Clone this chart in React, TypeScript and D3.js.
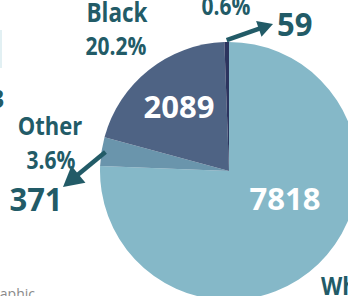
import React, { useEffect, useRef } from 'react';
import * as d3 from 'd3';

// slices, clockwise from 12 o'clock
const groups = ['White', 'Other', 'Black', 'Asian'];
const counts = [7818, 371, 2089, 59];
const percents = ['75.6%', '3.6%', '20.2%', '0.6%'];
const colors = ['#85b8c8', '#6a95ac', '#4e6384', '#2c345e'];

const W = 348;
const H = 296;
const ink = '#225b67';
const font = "'Open Sans', 'DejaVu Sans', sans-serif";

function PieChart() {
  const ref = useRef<SVGSVGElement | null>(null);

  useEffect(() => {
    const svg = d3.select(ref.current);
    svg.selectAll('*').remove();
    svg.attr('width', W).attr('height', H);

    const cx = 229, cy = 171, r = 129;
    const g = svg.append('g').attr('transform', `translate(${cx},${cy})`);

    const data = groups.map((d, i) => ({ name: d, count: counts[i], pct: percents[i], color: colors[i] }));
    const pie = d3.pie<any>().sort(null).value((d) => d.count);
    const arcs = pie(data);
    const arc = d3.arc<any>().innerRadius(0).outerRadius(r);

    g.selectAll('path.slice')
      .data(arcs)
      .enter()
      .append('path')
      .attr('class', 'slice')
      .attr('d', arc)
      .attr('fill', (d) => d.data.color);

    const pt = (a: number, rr: number) => [cx + rr * Math.sin(a), cy - rr * Math.cos(a)];
    const mid = (d: any) => (d.startAngle + d.endAngle) / 2;

    // arrow with triangle head
    const arrow = (from: number[], tip: number[], head: number) => {
      const dx = tip[0] - from[0], dy = tip[1] - from[1];
      const len = Math.sqrt(dx * dx + dy * dy);
      const ux = dx / len, uy = dy / len;
      const bx = tip[0] - ux * head, by = tip[1] - uy * head;
      svg.append('line')
        .attr('x1', from[0]).attr('y1', from[1])
        .attr('x2', bx + ux * 2).attr('y2', by + uy * 2)
        .attr('stroke', ink).attr('stroke-width', 4.5);
      const w = head * 0.55;
      svg.append('path')
        .attr('d', `M${tip[0]},${tip[1]}L${bx - uy * w},${by + ux * w}L${bx + uy * w},${by - ux * w}Z`)
        .attr('fill', ink);
    };
    arrow(pt(mid(arcs[1]), 125), [63, 187], 20);
    arrow(pt(mid(arcs[3]), 131), [273, 24], 15);

    // text, a little stretched up like the reference lettering
    const label = (txt: string, x: number, y: number, size: number, anchor = 'middle', weight = 700, fill = ink, sy = 1.15) =>
      svg.append('text')
        .attr('transform', `translate(${x},${y}) scale(1,${sy})`)
        .attr('text-anchor', anchor)
        .attr('font-family', font)
        .attr('font-weight', weight)
        .attr('font-size', size)
        .attr('fill', fill)
        .text(txt);

    // numbers inside the two big slices
    label(String(counts[0]), 285, 210, 31, 'middle', 700, '#ffffff', 1);
    label(String(counts[2]), 179, 118, 31, 'middle', 700, '#ffffff', 1);

    // outside labels
    label(groups[2], 117, 22, 22.5);
    label(percents[2], 116, 55, 21);
    label(groups[1], 50, 135, 22);
    label(percents[1], 51, 169, 21);
    label(String(counts[1]), 36, 211, 31, 'middle', 700, ink, 1.05);
    label(percents[3], 226, 15, 21);
    label(String(counts[3]), 277, 36, 31, 'start', 700, ink, 1.05);
    label(groups[0], 321, 295, 22, 'start');

    // cut-off bits at the edges of the crop
    label('3', 4, 108, 22, 'end');
    label('Demographic', 35, 299, 14, 'end', 400, '#8a8a8a', 1);
    svg.append('rect').attr('x', 0).attr('y', 30).attr('width', 2).attr('height', 38).attr('fill', '#e2f0f3');
  }, []);

  return <svg ref={ref} />;
}

export default function App() {
  return (
    <div style={{ position: 'fixed', left: 0, top: 0, width: W, height: H, background: '#fff' }}>
      <PieChart />
    </div>
  );
}
